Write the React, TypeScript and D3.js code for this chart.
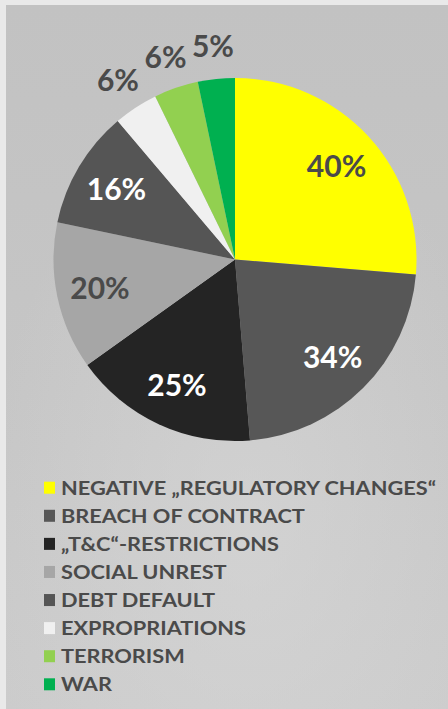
import { useMemo } from 'react'
import * as d3 from 'd3'

const W = 448
const H = 709

const CATEGORIES = [
  'NEGATIVE „REGULATORY CHANGES“',
  'BREACH OF CONTRACT',
  '„T&C“-RESTRICTIONS',
  'SOCIAL UNREST',
  'DEBT DEFAULT',
  'EXPROPRIATIONS',
  'TERRORISM',
  'WAR',
]
const VALUES = [40, 34, 25, 20, 16, 6, 6, 5]
const COLORS = ['#ffff00', '#575757', '#242424', '#a6a6a6', '#555555', '#f0f0f0', '#92d050', '#00b050']
// labels inside the slice are white on dark slices, outside ones are dark
const LABEL_COLORS = ['#4a4a4a', '#ffffff', '#ffffff', '#4a4a4a', '#ffffff', '#4a4a4a', '#4a4a4a', '#4a4a4a']
const OUTSIDE = [false, false, false, false, false, true, true, true]

const CX = 235
const CY = 259.5
const R = 181.5
const FONT = 'Lato, "Open Sans", sans-serif'

export default function App() {
  const arcs = useMemo(
    () =>
      d3
        .pie<number>()
        .sort(null)
        .value((d) => d)(VALUES),
    []
  )
  const arc = d3.arc<d3.PieArcDatum<number>>().innerRadius(0).outerRadius(R)
  const inLabel = d3.arc<d3.PieArcDatum<number>>().innerRadius(138).outerRadius(138)
  const outLabel = d3.arc<d3.PieArcDatum<number>>().innerRadius(214).outerRadius(214)

  const legendY = d3
    .scalePoint<number>()
    .domain(d3.range(CATEGORIES.length))
    .range([487.7, 684.3])

  return (
    <svg
      width={W}
      height={H}
      style={{ position: 'absolute', left: 0, top: 0, display: 'block' }}
    >
      <defs>
        <linearGradient id="bg" x1="0" y1="0" x2="0" y2="1">
          <stop offset="0" stopColor="#c2c2c2" />
          <stop offset="0.55" stopColor="#c6c6c6" />
          <stop offset="1" stopColor="#cccccc" />
        </linearGradient>
        <radialGradient id="haze" cx="0.55" cy="0.75" r="0.6">
          <stop offset="0" stopColor="#d8d8d8" stopOpacity="0.6" />
          <stop offset="1" stopColor="#d8d8d8" stopOpacity="0" />
        </radialGradient>
      </defs>
      <rect width={W} height={H} fill="#e9e9e9" />
      <rect x={6} y={5} width={W - 6} height={H - 5} fill="url(#bg)" />
      <rect x={6} y={5} width={W - 6} height={H - 5} fill="url(#haze)" />

      <g transform={`translate(${CX},${CY})`}>
        {arcs.map((a, i) => (
          <path key={i} d={arc(a) ?? ''} fill={COLORS[i]} />
        ))}
        {arcs.map((a, i) => {
          const [x, y] = OUTSIDE[i] ? outLabel.centroid(a) : inLabel.centroid(a)
          return (
            <text
              key={i}
              x={x}
              y={y}
              dy="0.36em"
              textAnchor="middle"
              fill={LABEL_COLORS[i]}
              style={{ fontFamily: FONT, fontWeight: 700, fontSize: 30 }}
            >
              {VALUES[i]}%
            </text>
          )
        })}
      </g>

      <g>
        {CATEGORIES.map((c, i) => (
          <g key={c} transform={`translate(0,${legendY(i)})`}>
            <rect x={44} y={-6} width={11} height={12} fill={COLORS[i]} />
            {/* source font is a wide geometric face, stretch Lato to match */}
            <text
              transform="translate(61,7) scale(1.145,1)"
              fill="#4a4a4a"
              style={{ fontFamily: FONT, fontWeight: 700, fontSize: 19 }}
            >
              {c}
            </text>
          </g>
        ))}
      </g>
    </svg>
  )
}
